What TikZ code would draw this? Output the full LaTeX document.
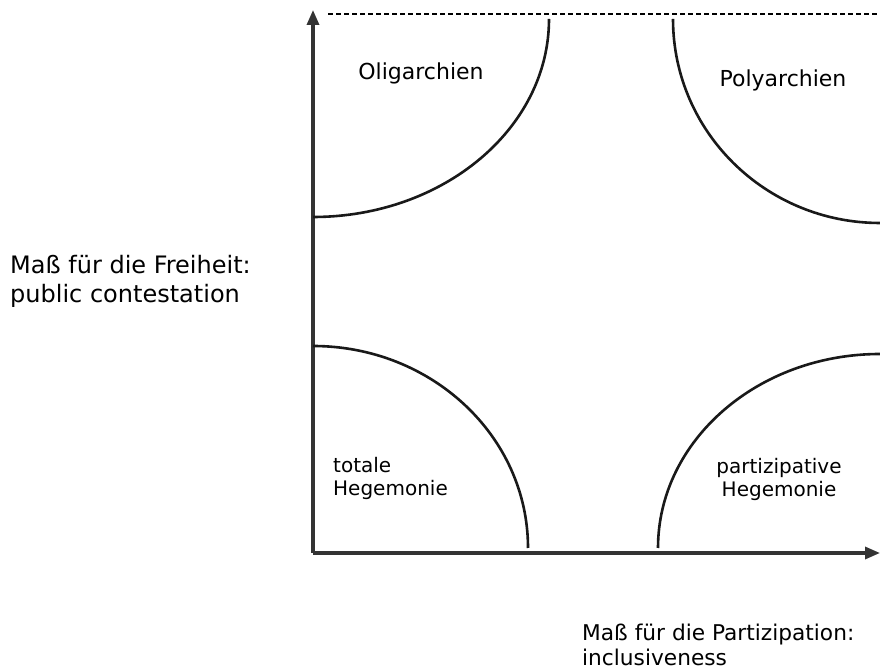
\documentclass[tikz,border=0pt]{standalone}
\usepackage{fontspec}
\setmainfont{DejaVu Sans}
\usetikzlibrary{arrows.meta}
\tikzset{
  axis/.style={draw=black!80, line width=3.2pt, -{Triangle[length=15pt,width=12pt]}},
  bound/.style={draw=black!90, line width=2.6pt},
  dashline/.style={draw=black, line width=2.8pt, dash pattern=on 5pt off 3pt},
  region/.style={font=\fontsize{22}{24}\selectfont, inner sep=0pt},
  regionlow/.style={font=\fontsize{20}{23}\selectfont, inner sep=0pt},
  axlabel/.style={font=\fontsize{24}{29}\selectfont, inner sep=0pt, align=left, anchor=west},
}
\begin{document}
\begin{tikzpicture}[x=1pt,y=1pt]
\useasboundingbox (0,0) rectangle (880,671);
% axes
\coordinate (O) at (313,118);
\coordinate (Ytop) at (313,661);
\coordinate (Xend) at (880,118);
\coordinate (Dl) at (328,657);
\coordinate (Dr) at (880,657);
\draw[axis] (O) -- (Ytop);
\draw[axis] (O) -- (Xend);
\draw[dashline] (Dl) -- (Dr);
% boundary arcs
\draw[bound] (549,652) arc[start angle=0, end angle=-90, x radius=236pt, y radius=198pt];
\draw[bound] (673,652) arc[start angle=180, end angle=270, x radius=207pt, y radius=204pt];
\draw[bound] (313,325) arc[start angle=90, end angle=0, x radius=215pt, y radius=202pt];
\draw[bound] (658,123) arc[start angle=180, end angle=90, x radius=222pt, y radius=194pt];
% region labels
\node[region] (oli) at (421,598) {Oligarchien};
\node[region] (poly) at (783,591) {Polyarchien};
\node[regionlow, align=left, anchor=west] (tot) at (333,192.5) {totale\\Hegemonie};
\node[regionlow, align=center] (part) at (779,192) {partizipative\\Hegemonie};
% axis labels
\node[axlabel] (ylab) at (10,390) {Maß für die Freiheit:\\public contestation};
\node[axlabel, font=\fontsize{21.7}{25}\selectfont] (xlab) at (582,26.5) {Maß für die Partizipation:\\inclusiveness};
\end{tikzpicture}
\end{document}
